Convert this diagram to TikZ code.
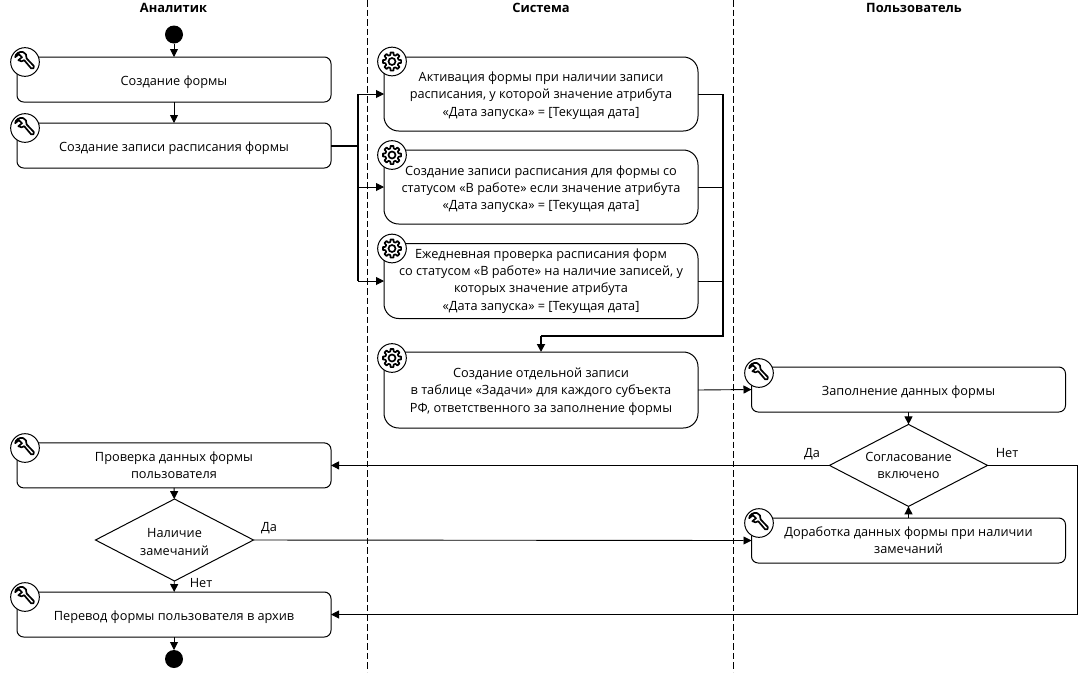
\documentclass[tikz,border=0pt]{standalone}
\usepackage{fontspec}
\setmainfont{Open Sans}
\usetikzlibrary{arrows.meta,shapes.geometric,calc}
\newcommand\onedn[1]{\raisebox{-2.2pt}[\height][\depth]{#1}}
\newcommand\firstdn[1]{\rule{0pt}{#1pt}}
\tikzset{
  every node/.style={font=\fontsize{9.55pt}{13pt}\selectfont,align=center,inner sep=0pt,outer sep=0pt},
  ln/.style={line width=0.68pt,black},
  thk/.style={line width=1.3pt,black},
  arr/.style={ln,-{Triangle[length=6pt,width=6pt]}},
  arrthk/.style={thk,-{Triangle[length=6pt,width=6pt]}},
  lane/.style={line width=0.75pt,dash pattern=on 5pt off 2.2pt},
  title/.style={font=\fontsize{9.65pt}{12pt}\selectfont\bfseries},
  lbox/.style={draw,line width=0.75pt,rounded corners=5pt,minimum width=235.5pt,minimum height=33.75pt},
  sbox/.style={draw,line width=0.75pt,rounded corners=11pt,minimum width=235.5pt},
  dec/.style={draw,diamond,line width=0.75pt,aspect=1.93,minimum width=118.5pt,minimum height=61.5pt},
  dot/.style={circle,fill=black,minimum size=13.5pt},
  icon/.style={circle,draw,fill=white,line width=0.75pt,minimum size=21.5pt},
  wrench/.pic={
    \node[icon] (-c) at (0,0) {};
    \draw[line width=1.25pt,line join=round,fill=white]
      (-2,-10) .. controls (-6,-10.6) and (-9.4,-8.6) .. (-9.8,-4.8)
      -- (-6.2,-7.8) -- (-3,-4.8) -- (-6.6,-1.8)
      .. controls (-4.5,-0.2) and (-2.4,-0.4) .. (-0.8,-1.8)
      -- (6.2,6.4) .. controls (7.6,7.8) and (10.2,5.4) .. (8.8,4)
      -- (1.6,-3.6) .. controls (2,-6.5) and (0.6,-9.4) .. (-2,-10) -- cycle;
  },
  gear/.pic={
    \node[icon] (-c) at (0,0) {};
    \draw[line width=1.25pt,line join=round,fill=white]
      (-9:9.2) \foreach \a in {0,45,...,315}{
        -- (\a-9:9.2) -- (\a+9:9.2) -- (\a+14:6.8) -- (\a+31:6.8) -- (\a+36:9.2)
      } -- cycle;
    \draw[line width=1.25pt] (0,0) circle[radius=3.5];
  },
}
\begin{document}
\begin{tikzpicture}[x=0.75pt,y=-0.75pt]
\useasboundingbox (0,0) rectangle (1084,672);
% lanes
\coordinate (la) at (367,0); \coordinate (lab) at (367,672);
\coordinate (lb) at (733,0); \coordinate (lbb) at (733,672);
\draw[lane] (la) -- (lab);
\draw[lane] (lb) -- (lbb);
\node[title] (t1) at (173.5,8) {Аналитик};
\node[title] (t2) at (541,8) {Система};
\node[title] (t3) at (914,8) {Пользователь};
% nodes
\node[dot] (start) at (174,34.5) {};
\node[lbox] (a1) at (174,79.5) {\onedn{Создание формы}};
\node[lbox] (a2) at (174,145.5) {\onedn{Создание записи расписания формы}};
\node[lbox] (a3) at (174,465.4) {Проверка данных формы\\пользователя};
\node[dec] (d2) at (174.5,540) {\firstdn{10}Наличие\\замечаний};
\node[lbox] (a4) at (174,614.5) {\onedn{Перевод формы пользователя в архив}};
\node[dot] (end) at (174,659) {};
\node[sbox,minimum height=55.5pt] (s1) at (541,94) {\firstdn{9.5}Активация формы при наличии записи\\расписания, у которой значение атрибута\\«Дата запуска» = [Текущая дата]};
\node[sbox,minimum height=55.5pt] (s2) at (541,187) {\firstdn{10.5}Создание записи расписания для формы со\\статусом «В работе» если значение атрибута\\«Дата запуска» = [Текущая дата]};
\node[sbox,minimum height=56.25pt] (s3) at (541,281) {Ежедневная проверка расписания форм\\со статусом «В работе» на наличие записей, у\\которых значение атрибута\\«Дата запуска» = [Текущая дата]};
\node[sbox,minimum height=57pt] (s4) at (541,390) {\firstdn{9.5}Создание отдельной записи\\в таблице «Задачи» для каждого субъекта\\РФ, ответственного за заполнение формы};
\node[lbox] (u1) at (908.5,389.5) {\onedn{Заполнение данных формы}};
\node[dec] (d1) at (908.5,465.4) {Согласование\\включено};
\node[lbox] (u2) at (908.5,540.5) {Доработка данных формы при наличии\\замечаний};
% labels
\node (l1) at (812,454) {Да};
\node (l2) at (1007,453) {Нет};
\node (l3) at (269,528) {Да};
\node (l4) at (201,583) {Нет};
% connectors
\coordinate (busl) at (358,146);
\coordinate (busr) at (723,336);
\coordinate (busm) at (541,336);
\coordinate (nr) at (1077,465.4);
\coordinate (nb) at (1077,614.5);
\draw[arr] (start) -- (a1);
\draw[arr] (a1) -- (a2);
\draw[arr] (a3) -- (d2);
\draw[arr] (d2) -- (a4);
\draw[arr] (a4) -- (end);
\draw[thk] (a2.east |- busl) -- (busl);
\draw[thk] (busl |- s1.west) -- (busl |- s3.west);
\draw[arr] (busl |- s1.west) -- (s1.west);
\draw[arr] (busl |- s2.west) -- (s2.west);
\draw[arr] (busl |- s3.west) -- (s3.west);
\draw[ln] (s1.east) -- (busr |- s1.east);
\draw[ln] (s2.east) -- (busr |- s2.east);
\draw[ln] (s3.east) -- (busr |- s3.east);
\draw[thk,line join=miter] (busr |- s1.east) -- (busr) -- (busm);
\draw[arrthk] (busm) -- (s4.north);
\draw[arr] (s4.east) -- (u1.west);
\draw[arr] (u1) -- (d1);
\draw[arr] (u2) -- (d1);
\draw[arr] (d1.west) -- (a3.east);
\draw[arr] (d2.east) -- (u2.west);
\draw[arr] (d1.east) -- (nr) -- (nb) -- (a4.east);
% icons
\pic (i1) at (25,62) {wrench};
\pic (i2) at (25,128) {wrench};
\pic (i3) at (25,448) {wrench};
\pic (i4) at (25,597) {wrench};
\pic (i5) at (759,373) {wrench};
\pic (i6) at (759,523) {wrench};
\pic (g1) at (392,61.5) {gear};
\pic (g2) at (392,155) {gear};
\pic (g3) at (392,248.5) {gear};
\pic (g4) at (392,358) {gear};
\end{tikzpicture}
\end{document}
